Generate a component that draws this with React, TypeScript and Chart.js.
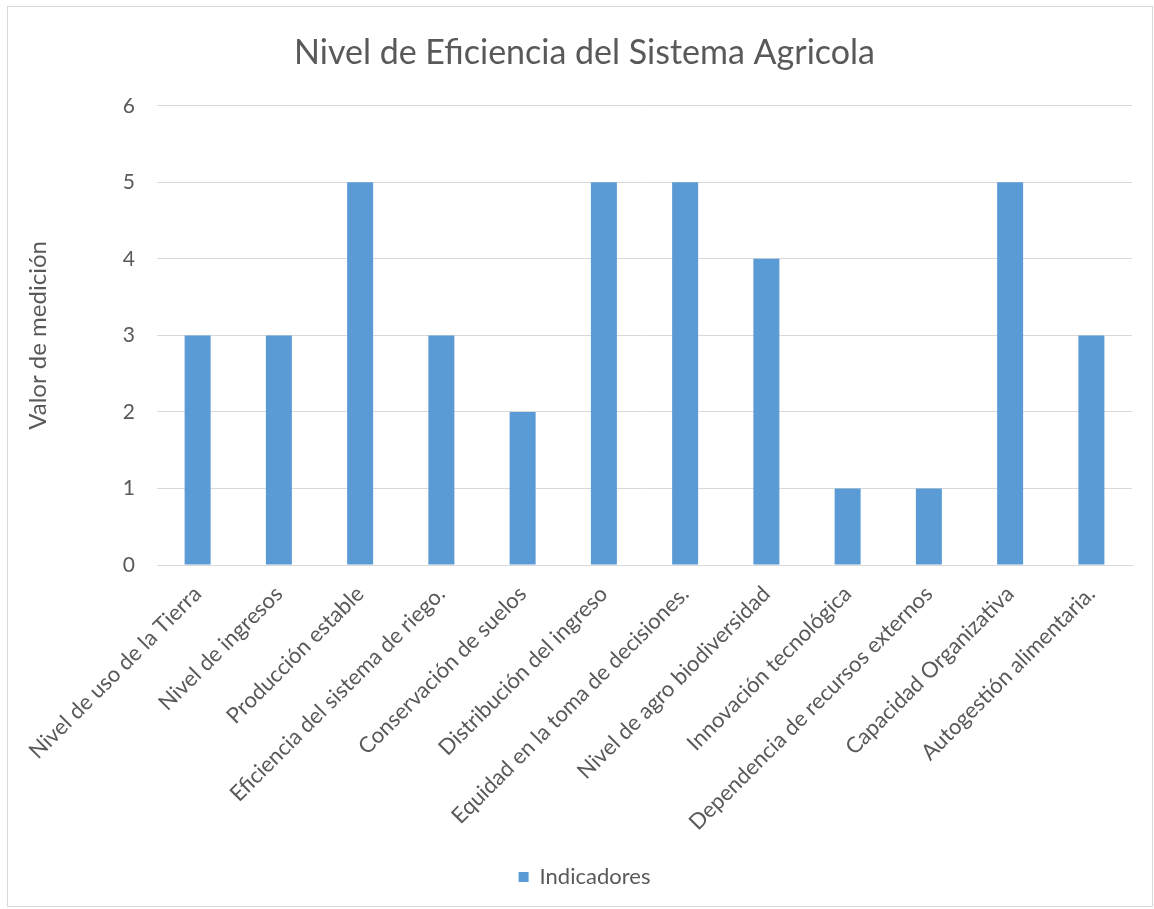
import React, { useEffect, useRef } from "react";
import { Chart, registerables } from "chart.js";

Chart.register(...registerables);

const categories: string[] = [
  "Nivel de uso de la Tierra",
  "Nivel de ingresos",
  "Producción estable",
  "Eficiencia del sistema de riego.",
  "Conservación de suelos",
  "Distribución del ingreso",
  "Equidad en la toma de decisiones.",
  "Nivel de agro biodiversidad",
  "Innovación tecnológica",
  "Dependencia de recursos externos",
  "Capacidad Organizativa",
  "Autogestión alimentaria.",
];

const indicadores: number[] = [3, 3, 5, 3, 2, 5, 5, 4, 1, 1, 5, 3];

const seriesName = "Indicadores";
const chartTitle = "Nivel de Eficiencia del Sistema Agricola";
const yAxisTitle = "Valor de medición";
const yMin = 0;
const yMax = 6;
const yStep = 1;

const FONT = "Lato, 'Open Sans', sans-serif";
const TEXT = "#595959";
const GRID = "#d9d9d9";
const BAR = "#5b9bd5";

export default function App() {
  const ref = useRef<HTMLCanvasElement | null>(null);

  useEffect(() => {
    if (!ref.current) return;
    const chart = new Chart(ref.current, {
      type: "bar",
      data: {
        labels: categories,
        datasets: [
          {
            label: seriesName,
            data: indicadores,
            backgroundColor: BAR,
            borderWidth: 0,
            barPercentage: 0.32,
            categoryPercentage: 1,
          },
        ],
      },
      options: {
        animation: false,
        responsive: false,
        maintainAspectRatio: false,
        layout: { padding: { left: 9, right: 0, top: 0, bottom: 8 } },
        plugins: {
          title: {
            display: true,
            text: chartTitle,
            color: TEXT,
            font: { family: FONT, size: 34, weight: "normal" },
            padding: { top: 26, bottom: 32 },
          },
          legend: {
            display: true,
            position: "bottom",
            labels: {
              color: TEXT,
              font: { family: FONT, size: 22 },
              boxWidth: 10,
              boxHeight: 10,
              padding: 10,
            },
          },
          tooltip: { enabled: false },
        },
        scales: {
          x: {
            grid: { display: false, drawTicks: false },
            border: { display: true, color: GRID, width: 1 },
            ticks: {
              color: TEXT,
              font: { family: FONT, size: 22 },
              minRotation: 45,
              maxRotation: 45,
              autoSkip: false,
              padding: 16,
            },
            afterFit: (scale: any) => {
              scale.height = 291;
            },
          },
          y: {
            min: yMin,
            max: yMax,
            grid: { color: GRID, drawTicks: false },
            border: { display: false },
            ticks: {
              stepSize: yStep,
              color: TEXT,
              font: { family: FONT, size: 21 },
              padding: 22,
            },
            title: {
              display: true,
              text: yAxisTitle,
              color: TEXT,
              font: { family: FONT, size: 24 },
              padding: { top: 7, bottom: 0 },
            },
            afterFit: (scale: any) => {
              scale.width = 140;
            },
          },
          yRightSpace: {
            type: "linear",
            position: "right",
            display: true,
            grid: { display: false, drawTicks: false },
            border: { display: false },
            ticks: { display: false },
            afterFit: (scale: any) => {
              scale.width = 20;
            },
          },
        },
      },
    });
    return () => chart.destroy();
  }, []);

  return (
    <div
      style={{
        position: "absolute",
        left: 7,
        top: 6,
        width: 1144,
        height: 899,
        border: "1px solid #d9d9d9",
        background: "#ffffff",
      }}
    >
      <canvas ref={ref} width={1144} height={899} style={{ display: "block" }} />
    </div>
  );
}
